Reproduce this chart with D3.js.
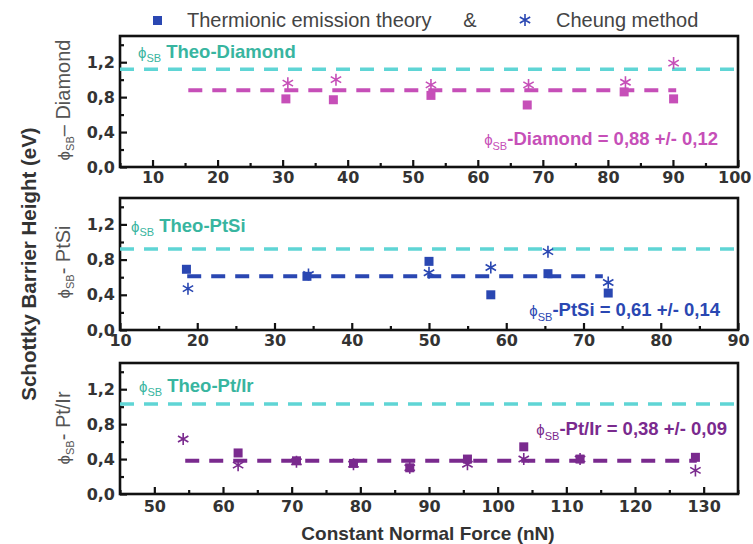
<!DOCTYPE html>
<html><head><meta charset="utf-8">
<script src="https://cdn.jsdelivr.net/npm/d3@7"></script>
<style>body{margin:0;background:#fff}svg{display:block}</style>
</head><body>
<svg id="c" width="753" height="544"></svg>
<script>
// ---------- data ----------
const panelNames = ["Diamond", "PtSi", "Pt/Ir"];
const xDomains = [[5, 100], [10, 90], [45, 135]];
const xMajorTicks = [
  [10, 20, 30, 40, 50, 60, 70, 80, 90, 100],
  [10, 20, 30, 40, 50, 60, 70, 80, 90],
  [50, 60, 70, 80, 90, 100, 110, 120, 130]
];
const yMajorTicks = [0, 0.4, 0.8, 1.2];
const yMinorTicks = [0.2, 0.6, 1.0, 1.4];
const theoValues = [1.12, 0.92, 1.03];
const meanValues = [0.88, 0.61, 0.38];
const meanErrors = [0.12, 0.14, 0.09];
const meanFrom = [15.5, 18.7, 54.5];
const meanTo = [90.5, 72.5, 129];

const diamondForceTE = [30.5, 37.8, 52.8, 67.6, 82.5, 90.1];
const diamondTE = [0.78, 0.77, 0.82, 0.71, 0.86, 0.78];
const diamondForceCh = [30.8, 38.2, 52.8, 67.8, 82.7, 90.1];
const diamondCheung = [0.96, 1.0, 0.94, 0.94, 0.97, 1.19];

const ptsiForceTE = [18.6, 34.2, 50, 58, 65.4, 73.2];
const ptsiTE = [0.69, 0.61, 0.78, 0.40, 0.64, 0.42];
const ptsiForceCh = [18.8, 34.4, 50, 58, 65.4, 73.2];
const ptsiCheung = [0.47, 0.63, 0.65, 0.71, 0.89, 0.54];

const ptirForceTE = [62.2, 70.7, 79, 87.2, 95.6, 103.8, 112, 128.8];
const ptirTE = [0.47, 0.38, 0.35, 0.30, 0.40, 0.54, 0.40, 0.42];
const ptirForceCh = [54.2, 62.2, 70.7, 79, 87.2, 95.6, 103.8, 112, 128.8];
const ptirCheung = [0.63, 0.33, 0.37, 0.34, 0.30, 0.34, 0.40, 0.40, 0.27];

const teForces = [diamondForceTE, ptsiForceTE, ptirForceTE];
const teValues = [diamondTE, ptsiTE, ptirTE];
const chForces = [diamondForceCh, ptsiForceCh, ptirForceCh];
const chValues = [diamondCheung, ptsiCheung, ptirCheung];

const legendLabels = ["Thermionic emission theory", "&", "Cheung method"];
const xTitle = "Constant Normal Force (nN)";
const yTitle = "Schottky Barrier Height (eV)";

// ---------- style / layout ----------
const seriesColors = ["#c64fb8", "#2a47b2", "#7a2a8e"];
const theoLine = "#5fd5d5", theoText = "#38b5a0";
const left = 120, right = 738;
const tops = [36, 198, 363], bottoms = [167, 330, 494];
const tickFont = "bold 16px 'DejaVu Sans', sans-serif";
const svg = d3.select("#c");
const fmt = d => d3.format(".1f")(d).replace(".", ",");
function fmt2(v) { return d3.format(".2f")(v).replace(".", ","); }

function starPath(r) {
  const a = r * 0.866, b = r * 0.5;
  return `M0,${-r}L0,${r}M${-a},${-b}L${a},${b}M${-a},${b}L${a},${-b}`;
}

for (let i = 0; i < 3; i++) {
  const x = d3.scaleLinear().domain(xDomains[i]).range([left, right]);
  const y = d3.scaleLinear().domain([0, 1.5]).range([bottoms[i], tops[i]]);
  const g = svg.append("g");
  const col = seriesColors[i];

  const xMinor = d3.range(xDomains[i][0], xDomains[i][1] + 0.01, 5).filter(v => !xMajorTicks[i].includes(v));
  g.append("g").attr("transform", `translate(0,${bottoms[i]})`)
    .call(d3.axisBottom(x).tickValues(xMinor).tickSize(-4).tickFormat(""))
    .call(a => a.select(".domain").remove())
    .call(a => a.selectAll("line").attr("stroke", "#111").attr("stroke-width", 2.2));
  const xa = g.append("g").attr("transform", `translate(0,${bottoms[i]})`)
    .call(d3.axisBottom(x).tickValues(xMajorTicks[i]).tickSize(-7).tickPadding(i === 2 ? 7 : 5).tickFormat(d3.format("d")));
  xa.select(".domain").remove();
  xa.selectAll("line").attr("stroke", "#111").attr("stroke-width", 2.2);
  xa.selectAll("text").style("font", tickFont).attr("fill", "#333");
  // keep the last label inside the picture
  xa.selectAll("text").each(function(d) {
    const w = this.getComputedTextLength();
    const cx = x(d);
    if (cx + w / 2 > 751) d3.select(this).attr("x", 751 - w / 2 - cx);
  });

  g.append("g").attr("transform", `translate(${left},0)`)
    .call(d3.axisLeft(y).tickValues(yMinorTicks).tickSize(-4).tickFormat(""))
    .call(a => a.select(".domain").remove())
    .call(a => a.selectAll("line").attr("stroke", "#111").attr("stroke-width", 2.2));
  const ya = g.append("g").attr("transform", `translate(${left},0)`)
    .call(d3.axisLeft(y).tickValues(yMajorTicks).tickSize(-7).tickPadding(5).tickFormat(fmt));
  ya.select(".domain").remove();
  ya.selectAll("line").attr("stroke", "#111").attr("stroke-width", 2.2);
  ya.selectAll("text").style("font", tickFont).attr("fill", "#333");

  g.append("rect").attr("x", left).attr("y", tops[i])
    .attr("width", right - left).attr("height", bottoms[i] - tops[i])
    .attr("fill", "none").attr("stroke", "#111").attr("stroke-width", 2.6);

  g.append("line").attr("x1", x(xDomains[i][0])).attr("x2", x(xDomains[i][1]))
    .attr("y1", y(theoValues[i])).attr("y2", y(theoValues[i]))
    .attr("stroke", theoLine).attr("stroke-width", 3.5).attr("stroke-dasharray", "14,10");
  g.append("line").attr("x1", x(meanFrom[i])).attr("x2", x(meanTo[i]))
    .attr("y1", y(meanValues[i])).attr("y2", y(meanValues[i]))
    .attr("stroke", col).attr("stroke-width", 4).attr("stroke-dasharray", "14,10");

  g.selectAll(".sq").data(teForces[i].map((f, k) => [f, teValues[i][k]])).enter()
    .append("rect").attr("x", d => x(d[0]) - 4.5).attr("y", d => y(d[1]) - 4.5)
    .attr("width", 9).attr("height", 9).attr("fill", col);
  g.selectAll(".st").data(chForces[i].map((f, k) => [f, chValues[i][k]])).enter()
    .append("path").attr("d", starPath(6))
    .attr("transform", d => `translate(${x(d[0])},${y(d[1])})`)
    .attr("stroke", col).attr("stroke-width", 1.6).attr("fill", "none");
}

const theoPos = [[138, 58], [131, 232], [139, 392]];
theoPos.forEach((p, i) => {
  const t = svg.append("text").attr("x", p[0]).attr("y", p[1]).attr("fill", theoText)
    .style("font-family", "'Liberation Sans', Arial, sans-serif").style("font-weight", "bold");
  t.append("tspan").text("ϕ").style("font-size", "15px").style("font-weight", "normal");
  t.append("tspan").text("SB").style("font-size", "11px").style("font-weight", "normal").attr("dy", 4);
  t.append("tspan").text(" Theo-" + panelNames[i]).style("font-size", "18.5px").attr("dy", -4);
});

const eqPos = [[718, 145], [720, 316], [727, 435]];
eqPos.forEach((p, i) => {
  const t = svg.append("text").attr("x", p[0]).attr("y", p[1]).attr("fill", seriesColors[i])
    .attr("text-anchor", "end")
    .style("font-family", "'Liberation Sans', Arial, sans-serif").style("font-weight", "bold");
  t.append("tspan").text("ϕ").style("font-size", "15px").style("font-weight", "normal");
  t.append("tspan").text("SB").style("font-size", "11px").style("font-weight", "normal").attr("dy", 5);
  t.append("tspan").text("-" + panelNames[i] + " = " + fmt2(meanValues[i]) + " +/- " + fmt2(meanErrors[i]))
    .style("font-size", "18.5px").attr("dy", -5);
});

const panelLabelCenters = [100, 262, 428];
const dashes = ["– ", "- ", "- "];
panelLabelCenters.forEach((cy, i) => {
  const t = svg.append("text").attr("transform", `translate(70,${cy}) rotate(-90)`)
    .attr("text-anchor", "middle").attr("fill", "#555")
    .style("font-family", "'Liberation Sans', Arial, sans-serif");
  t.append("tspan").text("ϕ").style("font-size", "17px");
  t.append("tspan").text("SB").style("font-size", "11px").attr("dy", 4);
  t.append("tspan").text(dashes[i] + panelNames[i]).style("font-size", "20px").attr("dy", -4);
});

svg.append("text").attr("x", 428).attr("y", 540).attr("text-anchor", "middle")
  .attr("fill", "#333").style("font", "bold 19px 'Liberation Sans', Arial, sans-serif").text(xTitle);
svg.append("text").attr("transform", "translate(36,264) rotate(-90)").attr("text-anchor", "middle")
  .attr("fill", "#333").style("font", "bold 20.5px 'Liberation Sans', Arial, sans-serif").text(yTitle);

const lg = svg.append("g");
lg.append("rect").attr("x", 153).attr("y", 16).attr("width", 9).attr("height", 9).attr("fill", seriesColors[1]);
lg.append("text").attr("x", 187).attr("y", 27).attr("fill", "#444")
  .style("font", "20px 'Liberation Sans', Arial, sans-serif").text(legendLabels[0]);
lg.append("text").attr("x", 470).attr("y", 27).attr("text-anchor", "middle").attr("fill", "#444")
  .style("font", "20px 'Liberation Sans', Arial, sans-serif").text(legendLabels[1]);
lg.append("path").attr("d", starPath(6)).attr("transform", "translate(525,20)")
  .attr("stroke", seriesColors[1]).attr("stroke-width", 1.6).attr("fill", "none");
lg.append("text").attr("x", 556).attr("y", 27).attr("fill", "#444")
  .style("font", "20px 'Liberation Sans', Arial, sans-serif").text(legendLabels[2]);
</script>
</body></html>
